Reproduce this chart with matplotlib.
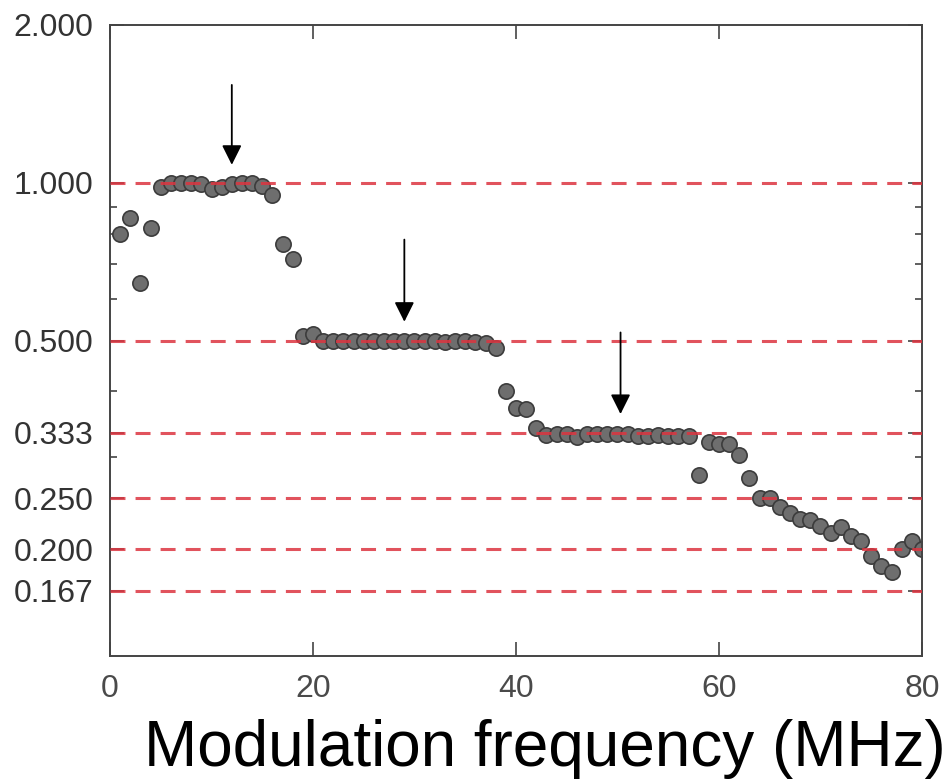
import numpy as np
import matplotlib.pyplot as plt
from matplotlib.ticker import FixedLocator, NullFormatter, LogLocator

# measured ratio vs modulation frequency (MHz)
freq = list(range(1, 81))
ratio = [0.80, 0.858, 0.645, 0.818, 0.98, 1.0, 1.0, 1.0, 0.995, 0.974,
         0.983, 0.995, 1.0, 1.0, 0.987, 0.949, 0.765, 0.716, 0.51, 0.515,
         0.5, 0.5, 0.5, 0.5, 0.5, 0.5, 0.5, 0.5, 0.5, 0.5,
         0.5, 0.5, 0.497, 0.5, 0.5, 0.497, 0.495, 0.483, 0.40, 0.372,
         0.370, 0.34, 0.33, 0.331, 0.332, 0.327, 0.332, 0.331, 0.331, 0.331,
         0.331, 0.329, 0.329, 0.33, 0.328, 0.328, 0.328, 0.277, 0.32, 0.317,
         0.317, 0.303, 0.273, 0.25, 0.25, 0.241, 0.234, 0.228, 0.227, 0.221,
         0.215, 0.22, 0.212, 0.207, 0.194, 0.186, 0.181, 0.2, 0.207, 0.2]

ref_levels = [1.0, 1/2, 1/3, 1/4, 1/5, 1/6]
ytick_vals = [2.0, 1.0, 1/2, 1/3, 1/4, 1/5, 1/6]
ytick_labels = ["2.000", "1.000", "0.500", "0.333", "0.250", "0.200", "0.167"]
xtick_vals = [0, 20, 40, 60, 80]

# arrows: (x, y_start, y_end)
arrows = [(12, 1.537, 1.082), (29, 0.779, 0.543), (50.3, 0.518, 0.362)]

fig = plt.figure(figsize=(9.5, 7.81), dpi=100)
ax = fig.add_axes([0.1158, 0.160, 0.8547, 0.808])

ax.plot(freq, ratio, 'o', ms=11, mfc='#6e6e6e', mec='#3c3c3c', mew=1.2, zorder=2)

for lv in ref_levels:
    ax.axhline(lv, color='#dc3540', lw=2.2, ls=(0, (4.9, 3.3)), alpha=0.85, zorder=3)

for x, y0, y1 in arrows:
    ax.annotate('', xy=(x, y1), xytext=(x, y0),
                arrowprops=dict(arrowstyle='-|>,head_length=1.2,head_width=0.6',
                                color='black', lw=1.3, shrinkA=0, shrinkB=0))

ax.set_yscale('log')
ax.set_ylim(0.125, 2.0)
ax.set_xlim(0, 80)
ax.yaxis.set_major_locator(FixedLocator(ytick_vals))
ax.set_yticklabels(ytick_labels)
ax.yaxis.set_minor_locator(LogLocator(base=10, subs=np.arange(2, 10)))
ax.yaxis.set_minor_formatter(NullFormatter())
ax.set_xticks(xtick_vals)

ax.tick_params(axis='both', which='both', direction='in', top=True, right=True,
               color='#444444', width=1.2)
ax.tick_params(axis='both', which='major', length=10)
ax.tick_params(axis='both', which='minor', length=5)
ax.tick_params(axis='y', which='major', labelsize=23, labelcolor='#333333', pad=12)
ax.tick_params(axis='x', which='major', labelsize=23, labelcolor='#4a4a4a', pad=13)

for lab in ax.get_yticklabels():
    lab.set_family(['Liberation Sans', 'DejaVu Sans'])
for lab in ax.get_xticklabels():
    lab.set_family(['Liberation Sans', 'DejaVu Sans'])

for sp in ax.spines.values():
    sp.set_color('#444444')
    sp.set_linewidth(1.4)

fig.text(0.995, 0.002, "Modulation frequency (MHz)", ha='right', va='bottom',
         fontsize=46, family=['Liberation Sans', 'DejaVu Sans'], color='black')

fig.savefig('out.png', dpi=100, facecolor='white')
